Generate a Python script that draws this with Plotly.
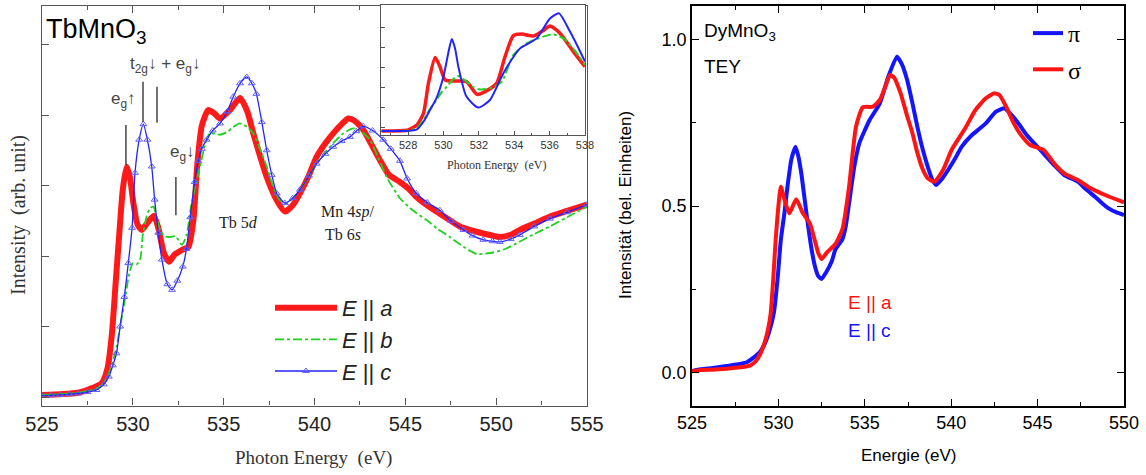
import plotly.graph_objects as go

# ---------------- Left panel: TbMnO3 (arbitrary units) ----------------
tb_a_x = [525, 526, 527, 527.8, 528.3, 528.6, 528.85, 529.05, 529.25, 529.45, 529.66, 529.85, 530.03, 530.25,
          530.49, 530.8, 531.16, 531.4, 531.7, 531.99, 532.3, 532.74, 533.06, 533.33, 533.55, 533.8, 534.15,
          534.5, 534.8, 535.35, 535.9, 536.3, 536.63, 537.0, 537.37, 537.9, 538.37, 538.8, 539.2, 539.7,
          540.12, 540.6, 541.03, 541.5, 541.86, 542.2, 542.68, 543.2, 543.6, 544.1, 544.7, 545.2, 545.6,
          546.3, 546.9, 547.5, 548.0, 548.7, 549.29, 550.2, 550.8, 551.3, 552.1, 552.96, 553.9, 555]
tb_a_y = [0.03, 0.04, 0.06, 0.13, 0.2, 0.4, 0.9, 1.6, 2.3, 2.95, 3.27, 3.1, 2.75, 2.45,
          2.37, 2.47, 2.57, 2.4, 2.05, 1.92, 2.02, 2.09, 2.13, 2.5, 3.3, 3.85, 4.07,
          4.02, 3.95, 4.07, 4.24, 4.05, 3.74, 3.42, 3.12, 2.8, 2.63, 2.72, 2.89, 3.15,
          3.41, 3.6, 3.74, 3.87, 3.95, 3.92, 3.79, 3.55, 3.36, 3.15, 3.05, 2.95, 2.84,
          2.7, 2.6, 2.5, 2.42, 2.36, 2.32, 2.27, 2.3, 2.37, 2.46, 2.56, 2.64, 2.73]

tb_b_x = [525, 526, 527, 528.0, 528.4, 528.68, 528.9, 529.1, 529.3, 529.53, 529.8, 530.0, 530.2, 530.4,
          530.55, 530.76, 530.95, 531.13, 531.35, 531.5, 531.75, 532.05, 532.35, 532.7, 532.96, 533.2,
          533.45, 533.7, 533.95, 534.24, 534.8, 535.2, 535.53, 535.9, 536.3, 536.63, 537.0, 537.37, 537.7,
          538.1, 538.46, 538.8, 539.2, 539.7, 540.12, 540.6, 541.03, 541.6, 542.13, 542.6, 543.05, 543.5,
          543.97, 544.7, 545.4, 546.17, 546.8, 547.45, 548.2, 548.92, 549.84, 550.5, 551.12, 552.0, 552.96,
          553.9, 555]
tb_b_y = [0.03, 0.04, 0.06, 0.12, 0.2, 0.34, 0.5, 0.71, 1.0, 1.33, 1.75, 1.9, 1.88, 1.95,
          2.3, 2.56, 2.68, 2.7, 2.5, 2.37, 2.28, 2.27, 2.28, 2.16, 2.3, 2.7,
          3.0, 3.27, 3.55, 3.74, 3.72, 3.76, 3.83, 3.88, 3.83, 3.74, 3.52, 3.27, 3.0,
          2.79, 2.75, 2.82, 2.94, 3.14, 3.31, 3.47, 3.6, 3.74, 3.81, 3.76, 3.65, 3.4,
          3.12, 2.82, 2.65, 2.51, 2.38, 2.27, 2.13, 2.03, 2.05, 2.1, 2.18, 2.3, 2.42,
          2.55, 2.7]

tb_c_x = [525, 525.5, 526, 526.5, 527, 527.5, 528.0, 528.4, 528.68, 528.9, 529.1, 529.3, 529.53, 529.75,
          529.96, 530.12, 530.35, 530.58, 530.8, 531.04, 531.2, 531.4, 531.6, 531.9, 532.16, 532.45,
          532.75, 532.95, 533.16, 533.4, 533.6, 533.8, 534.06, 534.4, 534.8, 535.2, 535.53, 535.9, 536.27,
          536.55, 536.8, 537.1, 537.37, 537.65, 537.92, 538.37, 538.8, 539.2, 539.7, 540.12, 540.6,
          541.03, 541.5, 541.95, 542.3, 542.68, 543.2, 543.78, 544.2, 544.7, 545.1, 545.6, 546.2, 546.9,
          547.5, 548.2, 548.7, 549.29, 549.8, 550.2, 550.8, 551.3, 552.1, 552.96, 553.9, 555]
tb_c_y = [0.02, 0.025, 0.03, 0.04, 0.05, 0.07, 0.1, 0.18, 0.29, 0.45, 0.62, 1.0, 1.42, 1.9,
          2.4, 3.18, 3.65, 3.87, 3.65, 3.27, 2.8, 2.33, 1.95, 1.6, 1.52, 1.65,
          1.85, 2.1, 2.55, 3.05, 3.35, 3.52, 3.65, 3.78, 3.88, 4.05, 4.26, 4.45, 4.54,
          4.45, 4.3, 3.9, 3.5, 3.15, 2.89, 2.75, 2.82, 2.94, 3.14, 3.31, 3.45,
          3.55, 3.63, 3.69, 3.77, 3.84, 3.78, 3.65, 3.52, 3.35, 3.1, 2.89, 2.76, 2.65,
          2.5, 2.37, 2.29, 2.23, 2.21, 2.2, 2.24, 2.3, 2.42, 2.53, 2.62, 2.73]

# ---------------- Inset (zoom of pre-edge) ----------------
in_a_x = [526.5, 527, 527.5, 528, 528.5, 528.87, 529.15, 529.53, 529.8, 530.1, 530.75, 531.3, 531.9, 532.35,
          533.0, 533.48, 533.95, 534.42, 535.08, 535.6, 536.02, 536.6, 537.34, 538]
in_a_y = [-0.2, -0.2, -0.19, -0.15, 0.1, 0.68, 2.18, 3.48, 3.02, 2.35, 2.3, 2.27, 1.63, 1.77,
          2.18, 3.52, 4.57, 4.65, 4.55, 4.8, 5.05, 4.68, 3.77, 3.02]
in_b_x = [526.5, 527, 527.5, 528, 528.5, 528.87, 529.2, 529.6, 529.9, 530.2, 530.5, 530.84, 531.3, 531.7,
          532.06, 532.63, 533.3, 533.95, 534.7, 535.65, 536.2, 536.78, 537.4, 538]
in_b_y = [-0.2, -0.2, -0.2, -0.18, -0.05, 0.35, 0.85, 1.35, 1.75, 2.02, 2.35, 2.55, 2.27, 2.0,
          1.88, 1.93, 2.27, 3.6, 4.18, 4.52, 4.63, 4.43, 3.85, 3.1]
in_c_x = [526.5, 527, 527.5, 528, 528.5, 528.9, 529.24, 529.6, 530.0, 530.25, 530.47, 530.65, 530.84,
          531.3, 531.97, 532.63, 533.38, 534.33, 535.27, 536.02, 536.53, 537.15, 537.6, 538]
in_c_y = [-0.2, -0.2, -0.2, -0.2, -0.12, 0.3, 0.85, 1.43, 2.52, 3.6, 4.4, 3.95, 3.02,
          1.52, 0.97, 1.35, 2.68, 3.93, 4.43, 5.43, 5.68, 4.77, 4.0, 3.27]

# ---------------- Right panel: DyMnO3 (TEY) ----------------
dy_pi_x = [525, 525.5, 526.2, 527.0, 527.77, 528.2, 528.56, 528.9, 529.15, 529.45, 529.74, 529.95, 530.14,
           530.35, 530.53, 530.75, 530.99, 531.15, 531.32, 531.52, 531.72, 531.92, 532.11, 532.3, 532.5,
           532.75, 533.1, 533.3, 533.7, 533.9, 534.09, 534.4, 534.68, 535.28, 535.87, 536.36, 536.86,
           537.15, 537.45, 537.75, 538.04, 538.35, 538.64, 538.9, 539.13, 539.45, 539.82, 540.2, 540.61,
           541.2, 541.6, 542.0, 542.59, 543.08, 543.58, 544.0, 544.37, 545.16, 545.95, 546.54, 547.33,
           547.8, 548.32, 548.7, 549.11, 549.6, 550]
dy_pi_y = [0.005, 0.01, 0.014, 0.02, 0.026, 0.032, 0.045, 0.06, 0.08, 0.12, 0.18, 0.28, 0.398,
           0.48, 0.56, 0.64, 0.678, 0.65, 0.6, 0.52, 0.44, 0.37, 0.32, 0.29, 0.281,
           0.3, 0.336, 0.37, 0.4, 0.44, 0.508, 0.62, 0.688, 0.758, 0.808, 0.888, 0.948,
           0.925, 0.878, 0.81, 0.738, 0.67, 0.618, 0.58, 0.563, 0.58, 0.608, 0.64, 0.678,
           0.713, 0.73, 0.748, 0.783, 0.793, 0.768, 0.74, 0.713, 0.668, 0.623, 0.593, 0.573,
           0.55, 0.528, 0.51, 0.493, 0.48, 0.473]

dy_sigma_x = [525, 525.5, 526.19, 527.0, 527.8, 528.36, 528.7, 528.95, 529.2, 529.4, 529.55, 529.7, 529.84,
              530.0, 530.14, 530.35, 530.63, 531.03, 531.42, 531.82, 532.1, 532.3, 532.5, 532.8, 533.3,
              533.7, 534.09, 534.3, 534.49, 534.88, 535.47, 535.87, 536.2, 536.46, 536.7, 537.06, 537.45,
              537.75, 538.04, 538.35, 538.64, 539.03, 539.53, 540.02, 540.81, 541.4, 542.0, 542.49,
              542.79, 543.18, 543.6, 543.97, 544.57, 545.36, 545.95, 546.54, 547.33, 547.92, 548.91, 550]
dy_sigma_y = [0.004, 0.008, 0.009, 0.012, 0.016, 0.021, 0.035, 0.056, 0.09, 0.13, 0.176, 0.28, 0.398,
              0.5, 0.558, 0.52, 0.478, 0.52, 0.478, 0.448, 0.398, 0.36, 0.341, 0.36, 0.386,
              0.43, 0.558, 0.66, 0.738, 0.796, 0.798, 0.818, 0.86, 0.893, 0.885, 0.84, 0.77,
              0.72, 0.66, 0.61, 0.583, 0.573, 0.608, 0.668, 0.733, 0.788, 0.823, 0.838,
              0.833, 0.798, 0.75, 0.718, 0.683, 0.668, 0.628, 0.598, 0.578, 0.558, 0.533, 0.511]

left_xticks = [525, 530, 535, 540, 545, 550, 555]
right_xticks = [525, 530, 535, 540, 545, 550]
right_yticks = [0.0, 0.5, 1.0]
right_yticktext = ["0.0", "0.5", "1.0"]
inset_xticks = [528, 530, 532, 534, 536, 538]

# ---------------- Figure ----------------
W, H = 1146, 475
def px(x):
    return x / W
def py(y):
    return 1 - y / H

SANS = "Liberation Sans, Arial, sans-serif"
SERIF = "Liberation Serif, Times New Roman, serif"
RED = "#ff1a1a"
GREEN = "#1fd21f"
BLUE = "#2323ff"

fig = go.Figure()

# left main
fig.add_trace(go.Scatter(x=tb_a_x, y=tb_a_y, mode="lines", xaxis="x", yaxis="y",
                         line=dict(color=RED, width=6, shape="spline", smoothing=0.6),
                         name="<i>E</i> || <i>a</i>", legend="legend"))
fig.add_trace(go.Scatter(x=tb_b_x, y=tb_b_y, mode="lines", xaxis="x", yaxis="y",
                         line=dict(color=GREEN, width=1.8, dash="dashdot", shape="spline", smoothing=0.6),
                         name="<i>E</i> || <i>b</i>", legend="legend"))
fig.add_trace(go.Scatter(x=tb_c_x, y=tb_c_y, mode="lines+markers", xaxis="x", yaxis="y",
                         line=dict(color=BLUE, width=1.3, shape="spline", smoothing=0.6),
                         marker=dict(symbol="triangle-up-open", size=6, color="#6060ff", line=dict(width=1)),
                         name="<i>E</i> || <i>c</i>", legend="legend"))

# inset
fig.add_trace(go.Scatter(x=in_a_x, y=in_a_y, mode="lines", xaxis="x3", yaxis="y3", showlegend=False,
                         line=dict(color=RED, width=3.5, shape="spline", smoothing=0.6)))
fig.add_trace(go.Scatter(x=in_b_x, y=in_b_y, mode="lines", xaxis="x3", yaxis="y3", showlegend=False,
                         line=dict(color=GREEN, width=2, dash="dashdot", shape="spline", smoothing=0.6)))
fig.add_trace(go.Scatter(x=in_c_x, y=in_c_y, mode="lines", xaxis="x3", yaxis="y3", showlegend=False,
                         line=dict(color=BLUE, width=2, shape="spline", smoothing=0.6)))

# right panel
fig.add_trace(go.Scatter(x=dy_pi_x, y=dy_pi_y, mode="lines", xaxis="x2", yaxis="y2",
                         line=dict(color="#1414ff", width=4, shape="spline", smoothing=0.5),
                         name="π", legend="legend2", legendgroup="pi"))
fig.add_trace(go.Scatter(x=dy_sigma_x, y=dy_sigma_y, mode="lines", xaxis="x2", yaxis="y2",
                         line=dict(color="#ff1414", width=4, shape="spline", smoothing=0.5),
                         name="σ", legend="legend2", legendgroup="sigma"))

grey = "#555555"
fig.update_layout(
    template="none",
    width=W, height=H, margin=dict(l=0, r=0, t=0, b=0, autoexpand=False),
    paper_bgcolor="white", plot_bgcolor="white",
    font=dict(family=SANS, color="#222"),
    xaxis=dict(domain=[px(42), px(587)], range=[525, 555], tickvals=left_xticks, anchor="y",
               automargin=False,
               ticks="inside", ticklen=7, tickcolor=grey, tickwidth=1.2, showline=True, linecolor=grey,
               linewidth=1.3, mirror="allticks", showgrid=False, zeroline=False,
               minor=dict(ticks="inside", dtick=2.5, tick0=525, ticklen=4, tickcolor=grey, showgrid=False),
               tickfont=dict(family=SANS, size=20, color="#222")),
    yaxis=dict(domain=[py(405.5), py(6)], range=[-0.12, 5.546], tickvals=[0, 1, 2, 3, 4, 5], anchor="x",
               automargin=False,
               ticks="inside", ticklen=7, tickcolor=grey, showticklabels=False, showline=True,
               linecolor=grey, linewidth=1.3, mirror=True, showgrid=False, zeroline=False),
    xaxis3=dict(domain=[px(381), px(585)], range=[526.47, 538], tickvals=inset_xticks, anchor="y3",
                automargin=False,
                ticks="inside", ticklen=4, tickcolor=grey, showline=True, linecolor=grey, linewidth=1,
                mirror=True, showgrid=False, zeroline=False,
                minor=dict(ticks="inside", dtick=1, tick0=528, ticklen=2, tickcolor=grey, showgrid=False),
                tickfont=dict(family=SANS, size=11, color="#333")),
    yaxis3=dict(domain=[py(135), py(5)], range=[-0.4, 6.1], tickvals=[0, 1, 2, 3, 4, 5], anchor="x3",
                automargin=False,
                ticks="inside", ticklen=4, tickcolor=grey, showticklabels=False, showline=True,
                linecolor=grey, linewidth=1, mirror=True, showgrid=False, zeroline=False),
    xaxis2=dict(domain=[px(692), px(1124)], range=[525, 550], tickvals=right_xticks, anchor="y2",
                automargin=False,
                ticks="inside", ticklen=7, tickcolor="black", tickwidth=1.3, showline=True, linecolor="black",
                linewidth=1.6, mirror="allticks", showgrid=False, zeroline=False,
                minor=dict(ticks="inside", dtick=2.5, tick0=525, ticklen=4, tickcolor="black", showgrid=False),
                tickfont=dict(family=SANS, size=18, color="black")),
    yaxis2=dict(domain=[py(406), py(6)], range=[-0.1, 1.1], tickvals=right_yticks, ticktext=right_yticktext,
                automargin=False,
                anchor="x2", ticks="inside", ticklen=7, tickcolor="black", tickwidth=1.3, showline=True,
                linecolor="black", linewidth=1.6, mirror="allticks", showgrid=False, zeroline=False,
                minor=dict(ticks="inside", dtick=0.25, tick0=0, ticklen=4, tickcolor="black", showgrid=False),
                tickfont=dict(family=SANS, size=18, color="black")),
    legend=dict(x=px(270), y=py(287), xanchor="left", yanchor="top", bgcolor="rgba(0,0,0,0)",
                font=dict(family=SANS, size=22, color="#222"), tracegroupgap=0, itemwidth=62),
    legend2=dict(x=px(1028), y=py(11), xanchor="left", yanchor="top", bgcolor="rgba(0,0,0,0)",
                 font=dict(family=SERIF, size=24, color="black"), tracegroupgap=2),
)

ann = []
def A(text, x, y, xref="paper", yref="paper", size=17, family=SANS, color="#222", xanchor="center",
      yanchor="middle", angle=0):
    ann.append(dict(text=text, x=x, y=y, xref=xref, yref=yref, showarrow=False, xanchor=xanchor,
                    yanchor=yanchor, textangle=angle, font=dict(size=size, family=family, color=color)))

A("TbMnO<sub>3</sub>", px(44), py(31), size=27, color="black", xanchor="left")
A("e<sub>g</sub>↑", 529.5, 4.21, "x", "y", size=17, color="#444")
A("t<sub>2g</sub>↓ + e<sub>g</sub>↓", 531.77, 4.71, "x", "y", size=17, color="#444")
A("e<sub>g</sub>↓", 532.73, 3.46, "x", "y", size=17, color="#444")
A("Tb 5<i>d</i>", 535.79, 2.47, "x", "y", size=16, family=SERIF, color="#222")
A("Mn 4<i>sp</i>/", 541.79, 2.62, "x", "y", size=16, family=SERIF, color="#222")
A("Tb 6<i>s</i>", 541.57, 2.30, "x", "y", size=16, family=SERIF, color="#222")
A("Intensity  (arb. unit)", px(18), py(215), size=20, family=SERIF, color="#333", angle=-90)
A("Photon Energy  (eV)", px(313), py(458), size=19, family=SERIF, color="#333")
A("Photon Energy  (eV)", px(496), py(165), size=12, family=SERIF, color="#333")
A("DyMnO<sub>3</sub>", px(702), py(32), size=19, color="black", xanchor="left")
A("TEY", px(702), py(67), size=19, color="black", xanchor="left")
A("E || a", px(846), py(302), size=19, color="#ff1414", xanchor="left")
A("E || c", px(846), py(330), size=19, color="#1414ff", xanchor="left")
A("Intensität (bel. Einheiten)", px(625), py(205), size=17, color="black", angle=-90)
A("Energie (eV)", px(908), py(455), size=17, color="black")
fig.update_layout(annotations=ann)

shapes = []
for (xv, y0, y1) in [(529.62, 3.29, 3.86), (530.56, 3.9, 4.47), (531.33, 3.89, 4.4), (532.37, 2.58, 3.12)]:
    shapes.append(dict(type="line", xref="x", yref="y", x0=xv, x1=xv, y0=y0, y1=y1,
                       line=dict(color="#444", width=1.5)))
fig.update_layout(shapes=shapes)

fig.write_html("out.html", config={"displayModeBar": False},
               post_script="document.body.style.margin='0';document.body.style.overflow='hidden';")
